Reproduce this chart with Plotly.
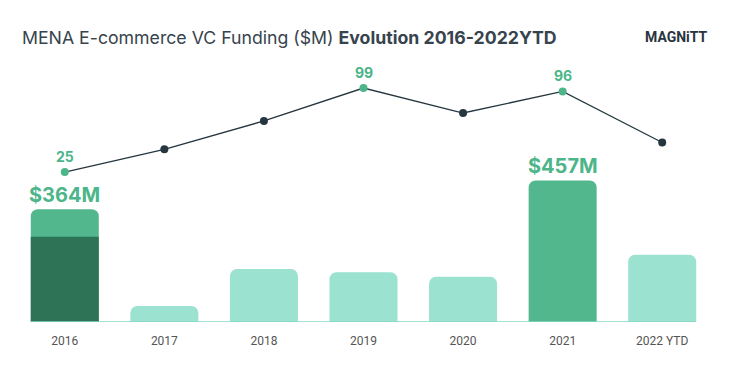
import plotly.graph_objects as go

years = ["2016", "2017", "2018", "2019", "2020", "2021", "2022 YTD"]
funding_m = [364, 52, 171, 161, 146, 457, 217]
funding_2016_inner = [275, None, None, None, None, None, None]
deal_counts = [25, 45, 70, 99, 77, 96, 51]
highlight = [True, False, False, True, False, True, False]
funding_labels = {"2016": "$364M", "2021": "$457M"}

GREEN = "#52b78c"
DARK_GREEN = "#2e7356"
LIGHT = "#9be2d1"
NAVY = "#26363f"
LABEL_GREEN = "#4cb58a"

bar_colors = [GREEN if y in funding_labels else LIGHT for y in years]

fig = go.Figure()
fig.add_trace(go.Bar(x=years, y=funding_m, marker=dict(color=bar_colors, line=dict(width=0)),
                     width=0.683, hoverinfo="skip"))
fig.add_trace(go.Bar(x=years, y=funding_2016_inner, marker=dict(color=DARK_GREEN, line=dict(width=0)),
                     width=0.683, hoverinfo="skip"))
fig.add_trace(go.Scatter(x=years, y=deal_counts, yaxis="y2", mode="lines+markers",
                         line=dict(color=NAVY, width=1.3),
                         marker=dict(size=8, color=[LABEL_GREEN if h else NAVY for h in highlight]),
                         hoverinfo="skip"))

annotations = []
for i, (c, h) in enumerate(zip(deal_counts, highlight)):
    if h:
        annotations.append(dict(x=i, xref="x", y=c, yref="y2", text=f"<b>{c}</b>", showarrow=False,
                                yshift=16, font=dict(family="Inter", size=14, color=LABEL_GREEN)))
for i, (y, v) in enumerate(zip(years, funding_m)):
    if y in funding_labels:
        annotations.append(dict(x=i, xref="x", y=v, yref="y", text=f"<b>{funding_labels[y]}</b>", showarrow=False,
                                yshift=14, font=dict(family="Inter", size=20, color=LABEL_GREEN)))

annotations.append(dict(
    xref="paper", yref="paper", x=0, xshift=5, y=1, yshift=23, xanchor="left", yanchor="middle",
    text="MENA E-commerce VC Funding ($M) <b>Evolution 2016-2022YTD</b>", showarrow=False,
    font=dict(family="Inter", size=17.7, color="#37434d")))
annotations.append(dict(
    xref="paper", yref="paper", x=1, xshift=-2, y=1, yshift=23, xanchor="right", yanchor="middle",
    text="<b>MAGNiTT</b>", showarrow=False,
    font=dict(family="Roboto", size=14, color="#2a3440")))

fig.update_layout(
    width=747, height=369,
    margin=dict(l=15, r=35, t=60, b=47),
    paper_bgcolor="white", plot_bgcolor="white",
    barmode="overlay", barcornerradius=7,
    showlegend=False,
    xaxis=dict(type="category", range=[-0.5, 6.5], showgrid=False, zeroline=False, showline=False,
               ticks="", ticklabelstandoff=10,
               tickfont=dict(family="Roboto", size=12, color="#555555")),
    yaxis=dict(range=[0, 846], visible=False, showgrid=False, zeroline=False),
    yaxis2=dict(range=[-107.1, 123.7], overlaying="y", visible=False, showgrid=False, zeroline=False),
    annotations=annotations,
    shapes=[
        dict(type="line", xref="x", yref="y", x0=-0.342, x1=6.342, y0=0, y1=0,
             line=dict(color="#86d9c3", width=1.5), layer="above"),
    ],
)

fig.write_html("out.html", config={"displayModeBar": False},
               post_script="document.body.style.margin='0';")
